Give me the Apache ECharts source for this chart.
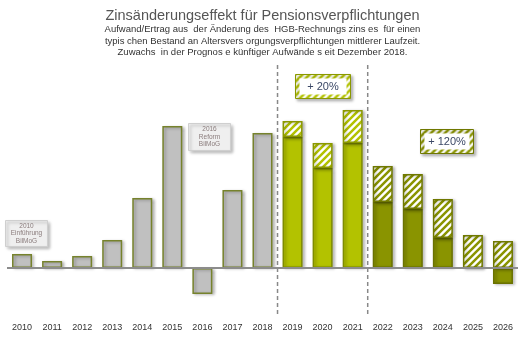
<!DOCTYPE html>
<html>
<head>
<meta charset="utf-8">
<script src="https://cdn.jsdelivr.net/npm/echarts@6/dist/echarts.min.js"></script>
<style>
  html, body { margin: 0; padding: 0; background: #fff; }
  #chart { width: 525px; height: 339px; }
</style>
</head>
<body>
<div id="chart"></div>
<script>
// Jahre der Zeitachse
const years = ['2010','2011','2012','2013','2014','2015','2016','2017','2018',
               '2019','2020','2021','2022','2023','2024','2025','2026'];

// Ist-Werte 2010–2018 (Aufwand > 0, Ertrag < 0)
const actual      = [14, 7, 12, 28, 70, 142, -26, 78, 135, '-', '-', '-', '-', '-', '-', '-', '-'];
// Prognose vor Dezember 2018
const baseNear    = ['-', '-', '-', '-', '-', '-', '-', '-', '-', 131, 100, 125, '-', '-', '-', '-', '-'];
const baseFar     = ['-', '-', '-', '-', '-', '-', '-', '-', '-', '-', '-', '-', 66, 59, 30, 0, -16];
// Zuwachs seit Dezember 2018
const addNear     = ['-', '-', '-', '-', '-', '-', '-', '-', '-', 16, 25, 33, '-', '-', '-', '-', '-'];
const addFar      = ['-', '-', '-', '-', '-', '-', '-', '-', '-', '-', '-', '-', 36, 35, 39, 33, 27];

// Trennlinien zwischen den Zeitabschnitten (Position auf der Jahresachse)
const dividers = [8.5, 11.5];

const FONT = '"Liberation Sans", Arial, sans-serif';
const LIGHT = '#b3c200';
const DARK = '#8a9400';

function stripes(color) {
  const s = 7;
  const c = document.createElement('canvas');
  c.width = s; c.height = s;
  const g = c.getContext('2d');
  g.fillStyle = '#fff';
  g.fillRect(0, 0, s, s);
  g.strokeStyle = color;
  g.lineWidth = 2.5;
  g.lineCap = 'square';
  g.beginPath();
  g.moveTo(-1, s + 1); g.lineTo(s + 1, -1);
  g.moveTo(-1, 1); g.lineTo(1, -1);
  g.moveTo(s - 1, s + 1); g.lineTo(s + 1, s - 1);
  g.stroke();
  return { image: c, repeat: 'repeat' };
}
const hatchLight = stripes(LIGHT);
const hatchDark = stripes(DARK);

const shadow = { shadowColor: 'rgba(0,0,0,0.28)', shadowBlur: 3, shadowOffsetX: 2, shadowOffsetY: 1 };

function barSeries(data, color, border) {
  return {
    type: 'bar', stack: 'total', data: data, barWidth: 20,
    itemStyle: Object.assign({ color: color, borderColor: border, borderWidth: 1.5 }, shadow),
    emphasis: { disabled: true }, silent: true
  };
}

function dividerSeries(x) {
  return {
    type: 'line', xAxisIndex: 1, yAxisIndex: 0, symbol: 'none', silent: true,
    data: [[x, 203], [x, -49]],
    lineStyle: { color: '#888', width: 1.5, type: [4, 3] }, z: 1
  };
}

function calloutBox(cx, cy, w, h, text, hatch, color) {
  return {
    type: 'group', left: cx - w / 2, top: cy - h / 2,
    children: [
      { type: 'rect', shape: { x: 0, y: 0, width: w, height: h },
        style: { fill: hatch, stroke: color, lineWidth: 1, shadowColor: 'rgba(0,0,0,0.3)', shadowBlur: 3, shadowOffsetX: 2, shadowOffsetY: 2 } },
      { type: 'rect', shape: { x: 4, y: 4, width: w - 8, height: h - 8 }, style: { fill: '#fff' } },
      { type: 'text', x: w / 2, y: h / 2,
        style: { text: text, fill: '#3b4866', font: '11px ' + FONT, align: 'center', verticalAlign: 'middle' } }
    ]
  };
}

function noteBox(cx, cy, w, h, text) {
  return {
    type: 'group', left: cx - w / 2, top: cy - h / 2,
    children: [
      { type: 'rect', shape: { x: 0, y: 0, width: w, height: h },
        style: { fill: '#efefef', stroke: '#cfcfcf', lineWidth: 1, shadowColor: 'rgba(0,0,0,0.25)', shadowBlur: 3, shadowOffsetX: 2, shadowOffsetY: 2 } },
      { type: 'text', x: w / 2, y: h / 2,
        style: { text: text, fill: '#8a7c7c', font: '6.5px ' + FONT, lineHeight: 7.5, align: 'center', verticalAlign: 'middle' } }
    ]
  };
}

const chart = echarts.init(document.getElementById('chart'), null, { renderer: 'canvas' });
chart.setOption({
  animation: false,
  backgroundColor: '#fff',
  title: {
    text: 'Zinsänderungseffekt für Pensionsverpflichtungen',
    subtext: 'Aufwand/Ertrag aus  der Änderung des  HGB-Rechnungs zins es  für einen\n' +
             'typis chen Bestand an Altersvers orgungsverpflichtungen mittlerer Laufzeit.\n' +
             'Zuwachs  in der Prognos e künftiger Aufwände s eit Dezember 2018.',
    left: 'center', top: 3, itemGap: 1,
    textStyle: { fontFamily: FONT, fontSize: 14.5, fontWeight: 'normal', color: '#555' },
    subtextStyle: { fontFamily: FONT, fontSize: 9.5, lineHeight: 11.5, color: '#333' }
  },
  grid: { left: 7, right: 7, top: 60, bottom: 22, containLabel: false },
  xAxis: [
    { type: 'category', data: years, position: 'bottom',
      axisLine: { show: false }, axisTick: { show: false },
      axisLabel: { fontFamily: FONT, fontSize: 9, color: '#333', margin: 6 } },
    { type: 'value', min: -0.5, max: 16.5, show: false }
  ],
  yAxis: { type: 'value', min: -49, max: 208, show: false, splitLine: { show: false } },
  series: [
    dividerSeries(dividers[0]),
    dividerSeries(dividers[1]),
    barSeries(actual, '#c0c0c0', '#76822c'),
    barSeries(baseNear, LIGHT, '#7f8c00'),
    barSeries(baseFar, DARK, '#6a7200'),
    barSeries(addNear, hatchLight, '#8a9800'),
    Object.assign(barSeries(addFar, hatchDark, '#6f7800'), {
      markLine: {
        silent: true, symbol: 'none', label: { show: false },
        lineStyle: { color: '#8c8c8c', width: 2, type: 'solid' },
        data: [{ yAxis: 0 }]
      }
    })
  ],
  graphic: [
    noteBox(26, 233, 42, 26, '2010\nEinführung\nBilMoG'),
    noteBox(209, 136.5, 42, 27, '2016\nReform\nBilMoG'),
    calloutBox(322.5, 86, 55, 24, '+ 20%', hatchLight, '#8a9800'),
    calloutBox(446.5, 141, 53, 24, '+ 120%', hatchDark, '#6f7800')
  ]
});
</script>
</body>
</html>
